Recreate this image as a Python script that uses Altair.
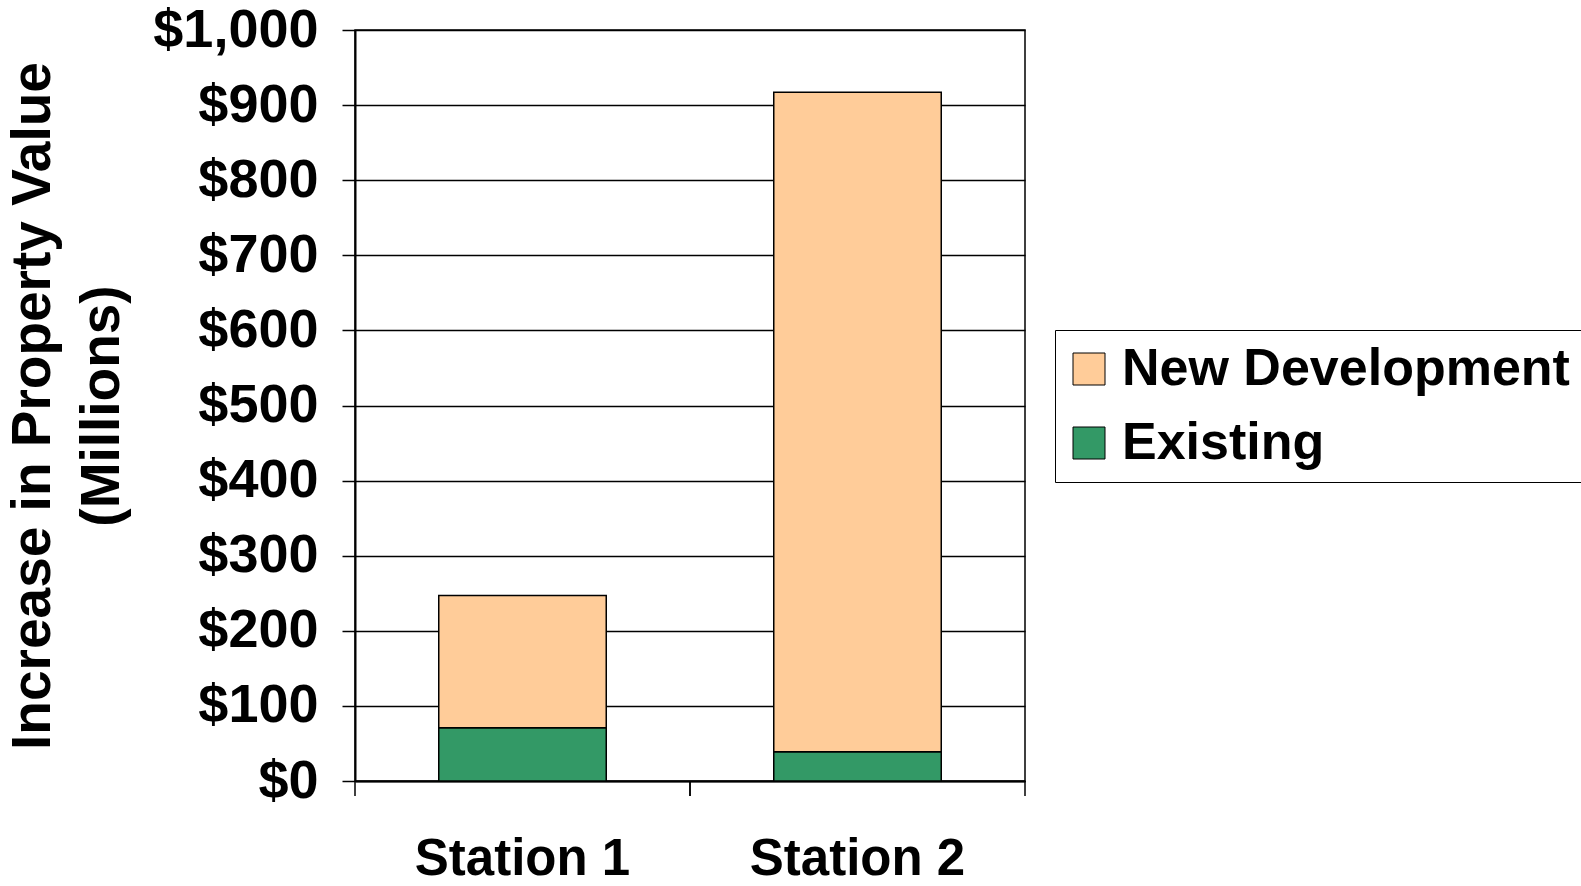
import altair as alt
import pandas as pd

stations = ["Station 1", "Station 2"]
existing = [71, 39]
new_development = [176, 878]
series = ["New Development", "Existing"]
colors = ["#FFCC99", "#339966"]
y_ticks = [0, 100, 200, 300, 400, 500, 600, 700, 800, 900, 1000]

rows = []
for i, s in enumerate(stations):
    rows.append({"station": s, "type": "Existing", "value": existing[i], "order": 0})
    rows.append({"station": s, "type": "New Development", "value": new_development[i], "order": 1})
df = pd.DataFrame(rows)
tick_df = pd.DataFrame({"station": stations})

W, H = 670, 751
FONT = "Liberation Sans, Arial, sans-serif"

x_scale = alt.Scale(paddingInner=0, paddingOuter=0)

bars = alt.Chart(df).mark_bar(
    width=alt.RelativeBandSize(0.5), stroke="black", strokeWidth=1.5
).encode(
    x=alt.X("station:N", sort=stations, scale=x_scale,
            axis=alt.Axis(title=None, ticks=False, labelAngle=0,
                          labelFont=FONT, labelFontSize=51, labelFontWeight="bold",
                          labelColor="black", labelPadding=53, labelLimit=1000,
                          domainColor="black", domainWidth=2)),
    y=alt.Y("value:Q", stack="zero",
            scale=alt.Scale(domain=[0, 1000], nice=False),
            axis=alt.Axis(values=y_ticks, format="$,.0f",
                          title=["Increase in Property Value", "(Millions)"],
                          titleFont=FONT, titleFontSize=55, titleFontWeight="bold",
                          titleColor="black", titleAngle=270, titleAlign="center",
                          titleBaseline="middle", titleX=-323, titleY=H / 2,
                          titleLineHeight=69,
                          labelFont=FONT, labelFontSize=54, labelFontWeight="bold",
                          labelColor="black", labelPadding=24, labelLimit=1000,
                          tickSize=13, tickColor="black", tickWidth=1.5,
                          domainColor="black", domainWidth=2,
                          grid=True, gridColor="black", gridWidth=1.5, gridOpacity=1)),
    color=alt.Color("type:N", scale=alt.Scale(domain=series, range=colors),
                    legend=alt.Legend(title=None, orient="none", legendX=700, legendY=300,
                                      labelFont=FONT, labelFontSize=52, labelFontWeight="bold",
                                      labelColor="black", symbolType="square", symbolSize=1024,
                                      symbolStrokeColor="black", symbolStrokeWidth=1,
                                      strokeColor="black", fillColor="white",
                                      padding=13, rowPadding=22, labelOffset=7,
                                      symbolOffset=-5, labelLimit=1000)),
    order=alt.Order("order:Q", sort="ascending"),
)

ticks_start = alt.Chart(tick_df).mark_rule(color="black", strokeWidth=1.5).encode(
    x=alt.X("station:N", sort=stations, scale=x_scale, bandPosition=0),
    y=alt.value(H), y2=alt.value(H + 15),
)
ticks_end = alt.Chart(tick_df).mark_rule(color="black", strokeWidth=1.5).encode(
    x=alt.X("station:N", sort=stations, scale=x_scale, bandPosition=1),
    y=alt.value(H), y2=alt.value(H + 15),
)

chart = alt.layer(bars, ticks_start, ticks_end).properties(
    width=W, height=H,
    autosize=alt.AutoSizeParams(type="none"),
    padding={"left": 355, "top": 30, "right": 1581 - 355 - W, "bottom": 886 - 30 - H},
    background="white",
).configure_view(stroke="black", strokeWidth=1.5)

chart.save("out.html", embed_options={"renderer": "svg", "actions": False})
